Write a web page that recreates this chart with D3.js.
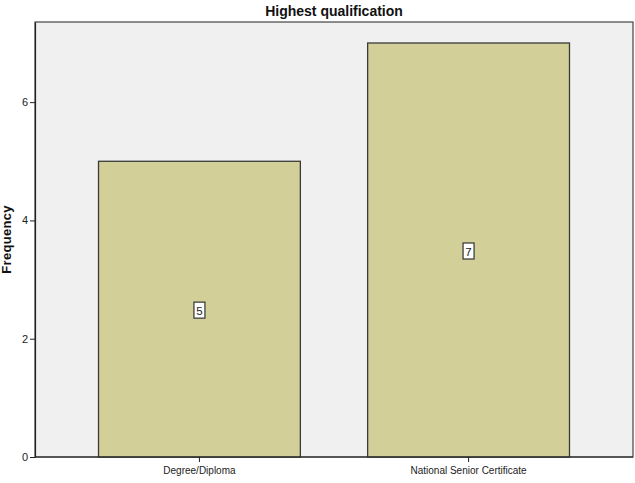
<!DOCTYPE html>
<html><head><meta charset="utf-8">
<script src="https://cdn.jsdelivr.net/npm/d3@7"></script>
<style>body{margin:0;background:#fff;}svg{display:block;font-family:"Liberation Sans",Arial,sans-serif;}</style>
</head><body>
<svg id="c" width="635" height="483"></svg>
<script>
const categories = ["Degree/Diploma", "National Senior Certificate"];
const frequencies = [5, 7];
const yTicks = [0, 2, 4, 6];
const title = "Highest qualification";
const yLabel = "Frequency";

const svg = d3.select("#c");
const L = 35, R = 633, T = 22, B = 457;

svg.append("rect").attr("x", L).attr("y", T).attr("width", R - L).attr("height", B - T)
  .attr("fill", "#f0f0f0").attr("stroke", "#444").attr("stroke-width", 1.2);

const x = d3.scaleBand().domain(categories).range([L, R]).paddingInner(0.25).paddingOuter(0.236);
const y = d3.scaleLinear().domain([0, 7.355]).range([B, T]);

const data = categories.map((c, i) => ({c, v: frequencies[i]}));

svg.selectAll("rect.bar").data(data).join("rect").attr("class", "bar")
  .attr("x", d => x(d.c)).attr("y", d => y(d.v))
  .attr("width", x.bandwidth()).attr("height", d => y(0) - y(d.v))
  .attr("fill", "#d3cf98").attr("stroke", "#3a3a3a").attr("stroke-width", 1.3);

// value labels
const lab = svg.selectAll("g.lab").data(data).join("g").attr("class", "lab")
  .attr("transform", d => `translate(${x(d.c) + x.bandwidth() / 2},${(y(d.v) + y(0)) / 2 + 2})`);
lab.append("rect").attr("x", -5.5).attr("y", -9).attr("width", 11).attr("height", 16)
  .attr("fill", "#fff").attr("stroke", "#333").attr("stroke-width", 1.2);
lab.append("text").attr("text-anchor", "middle").attr("y", 4).attr("font-size", 11.5)
  .attr("fill", "#222").text(d => d.v);

// axes
const yAxis = svg.append("g").attr("transform", `translate(${L},0)`)
  .call(d3.axisLeft(y).tickValues(yTicks).tickSize(5).tickSizeOuter(0).tickPadding(2));
yAxis.select(".domain").attr("stroke", "#222").attr("stroke-width", 1.2);
yAxis.selectAll(".tick line").attr("stroke", "#222");
yAxis.selectAll("text").attr("font-size", 11).attr("fill", "#222").attr("font-family", "Liberation Sans, Arial, sans-serif");

const xAxis = svg.append("g").attr("transform", `translate(0,${B})`)
  .call(d3.axisBottom(x).tickSize(5).tickSizeOuter(0).tickPadding(5));
xAxis.select(".domain").remove();
xAxis.selectAll(".tick line").attr("stroke", "#222");
xAxis.selectAll("text").attr("font-size", 10).attr("fill", "#222").attr("font-family", "Liberation Sans, Arial, sans-serif");

svg.append("line").attr("x1", L).attr("x2", R).attr("y1", B).attr("y2", B).attr("stroke", "#222").attr("stroke-width", 1.2);

svg.append("text").attr("x", (L + R) / 2).attr("y", 16).attr("text-anchor", "middle")
  .attr("font-size", 14).attr("font-weight", "bold").attr("fill", "#111").text(title);

svg.append("text").attr("transform", `translate(11,${(T + B) / 2}) rotate(-90)`)
  .attr("text-anchor", "middle").attr("font-size", 13).attr("font-weight", "bold")
  .attr("letter-spacing", 0.3).attr("fill", "#111").text(yLabel);
</script>
</body></html>
